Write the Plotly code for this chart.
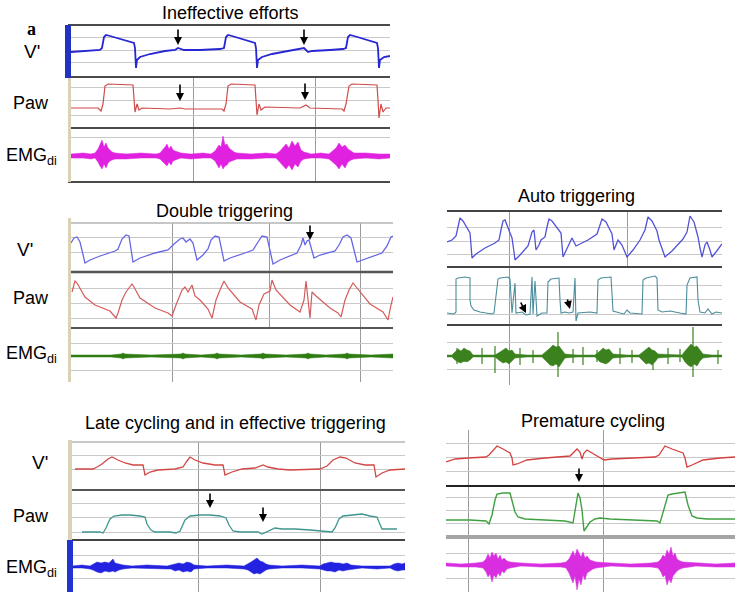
import plotly.graph_objects as go

# time in samples from the start of each panel, signals in arbitrary units (baseline = 0)

# a: Ineffective efforts
a_flow_t = [0, 19, 29, 31, 33, 35, 39, 63, 64, 65, 66, 69, 79, 94, 104, 107, 113, 129, 149, 153, 155, 157, 161, 184, 185, 186, 187, 191, 201, 217, 229, 233, 237, 241, 259, 272, 275, 277, 279, 283, 306, 307, 308, 309, 313, 319]
a_flow = [-2, -1, 0, 2, 13, 15, 14, 7, 2, -18, -10, -7, -4, -1, 0, 2, 0, 0, 1, 2, 13, 15, 14, 7, 2, -18, -10, -7, -4, -1, 1, 2, -2, -1, 0, 1, 2, 13, 15, 14, 7, 2, -18, -10, -7, -6]
a_paw_t = [0, 27, 30, 32, 34, 37, 62, 63, 64, 66, 68, 71, 99, 109, 114, 151, 153, 155, 157, 160, 184, 185, 186, 188, 190, 194, 229, 235, 239, 271, 273, 275, 278, 281, 306, 307, 308, 310, 312, 315, 319]
a_paw = [0, 0, -3, 4, 22, 24, 23, 8, -4, 4, -2, 0, -1, 0, -1, -1, -3, 4, 22, 24, 23, 8, -7, 4, -2, 1, 0, 3, 0, -1, -3, 4, 22, 24, 23, 8, -10, 4, -4, 0, 0]
a_emg_t = [0, 12, 20, 24,
           27, 29, 31, 33, 35, 37, 39, 41, 44,
           55, 70, 85, 89,
           92, 94, 96, 98, 100, 102, 104, 107, 110,
           120, 132, 140,
           144, 146, 148, 150, 152, 154, 156, 158, 160, 163, 166,
           180, 195, 205,
           209, 212, 215, 218, 221, 224, 227, 230, 233,
           240, 250, 258,
           262, 265, 268, 271, 274, 277, 280, 283,
           295, 308, 319]
a_emg_hi = [2, 3, 2, 3,
            7, 11, 16, 9, 13, 8, 6, 4, 3,
            2, 3, 2, 3,
            6, 9, 12, 7, 10, 6, 5, 4, 3,
            2, 3, 2,
            5, 8, 11, 9, 20, 11, 12, 8, 6, 4, 3,
            2, 3, 2,
            5, 9, 12, 8, 15, 10, 14, 6, 4,
            2, 3, 2,
            5, 8, 13, 9, 11, 7, 5, 3,
            3, 2, 2]
a_emg_lo = [2, 2, 3, 2,
            6, 10, 13, 8, 12, 7, 5, 4, 3,
            3, 2, 2, 3,
            5, 8, 10, 6, 9, 5, 4, 3, 2,
            3, 2, 2,
            5, 9, 12, 8, 13, 10, 9, 6, 5, 4, 3,
            3, 2, 2,
            6, 10, 13, 9, 14, 8, 11, 5, 3,
            2, 2, 3,
            6, 9, 13, 8, 12, 6, 4, 3,
            2, 3, 2]

# Double triggering
b_flow_t = [0, 3, 6, 9, 14, 19, 29, 44, 47, 51, 55, 58, 62, 69, 84, 97, 103, 109, 112, 115, 119, 122, 126, 132, 137, 140, 144, 148, 153, 159, 174, 182, 187, 191, 196, 202, 209, 226, 230, 232, 234, 236, 238, 241, 243, 249, 264, 268, 272, 276, 280, 286, 294, 311, 316, 320, 322]
b_flow = [7, 12, 13, 8, -13, -10, -6, -1, 1, 11, 15, 14, -12, -8, -3, 0, 6, 11, 12, 8, 11, 7, -10, -5, 1, 10, 14, 13, -11, -8, -3, 0, 8, 14, 13, -14, -10, -3, 5, 12, 5, 9, 10, 0, -8, -5, -1, 5, 13, 15, 12, -12, -9, -3, 4, 13, 14]
b_paw_t = [1, 4, 6, 14, 24, 39, 45, 47, 51, 55, 61, 63, 69, 84, 97, 101, 105, 111, 114, 117, 121, 124, 129, 137, 141, 145, 149, 153, 157, 169, 181, 185, 188, 193, 199, 201, 205, 219, 229, 233, 235, 237, 239, 241, 245, 259, 267, 270, 274, 278, 282, 286, 299, 312, 317, 320, 322]
b_paw = [11, 22, 20, 6, -2, -8, -15, -10, 3, 11, 19, 16, 5, -5, -10, -13, -2, 13, 16, 11, 18, 7, 3, -6, -15, 3, 13, 22, 15, 1, -6, -17, -2, 9, 12, 23, 13, -2, -9, 3, 22, 3, -15, 11, 7, -5, -10, -14, 3, 13, 20, 15, -1, -9, -17, -2, 6]
b_emg_t = [0, 20, 40, 50, 52, 54, 80, 110, 112, 114, 130, 144, 146, 148, 170, 190, 192, 194, 215, 235, 237, 239, 255, 274, 276, 278, 300, 322]
b_emg_hi = [1, 1, 1, 2, 3, 2, 1, 2, 3, 2, 1, 2, 3, 2, 1, 2, 3, 2, 1, 2, 3, 2, 1, 2, 3, 2, 1, 2]
b_emg_lo = [1, 1, 1, 2, 3, 2, 1, 2, 3, 2, 1, 2, 3, 2, 1, 2, 3, 2, 1, 2, 3, 2, 1, 2, 3, 2, 1, 2]

# Auto triggering
c_flow_t = [0, 5, 9, 11, 13, 16, 23, 24, 25, 29, 38, 48, 52, 54, 56, 58, 65, 67, 68, 73, 81, 85, 87, 89, 92, 94, 98, 100, 102, 105, 114, 116, 120, 125, 129, 133, 141, 150, 153, 155, 159, 165, 167, 171, 175, 180, 186, 193, 198, 201, 205, 210, 212, 214, 218, 225, 236, 240, 243, 247, 251, 253, 255, 258, 260, 263, 265, 269, 275]
c_flow = [-1, 1, 5, 15, 23, 20, 8, -4, -17, -13, -7, -2, 1, 11, 20, 21, 3, -11, -19, -14, -5, 9, 11, -9, -4, 1, 4, 14, 22, 20, 8, -16, -7, 3, -5, -3, 1, 7, 15, 22, 19, 7, -9, 1, -4, -16, -9, 1, 11, 24, 20, 10, 1, -5, -16, -10, 2, 9, 25, 19, 4, -7, -16, -4, -1, -9, -16, -11, -3]
c_paw_t = [0, 7, 9, 9, 11, 18, 23, 23, 24, 27, 33, 45, 47, 51, 53, 61, 63, 64, 65, 68, 69, 75, 79, 83, 85, 86, 88, 90, 95, 100, 101, 104, 112, 113, 114, 118, 122, 126, 128, 129, 131, 143, 150, 151, 154, 164, 165, 166, 173, 177, 180, 183, 195, 196, 199, 208, 210, 211, 215, 223, 233, 239, 240, 243, 250, 251, 253, 258, 261, 265, 269, 275]
c_paw = [1, 0, 2, 35, 36, 37, 36, 14, 8, 4, 2, 0, 1, 35, 36, 37, 35, 14, 1, 31, 1, 2, -1, 0, 37, 0, 33, -2, 1, 1, 32, 35, 36, 14, 1, 2, 1, 2, 36, -7, 1, 2, 1, 34, 36, 37, 14, 3, 1, 0, 4, 1, 0, 34, 36, 38, 36, 4, 2, 3, 1, 0, 29, 36, 37, 14, 2, 1, 5, 0, 2, 1]
c_emg_t = [0, 5, 8, 11, 14, 17, 20, 23, 26, 35, 48, 53, 56, 59, 62, 65, 68, 80, 95, 100, 103, 106, 109, 112, 115, 118, 130, 148, 153, 156, 159, 162, 166, 180, 192, 196, 199, 202, 205, 208, 211, 225, 235, 238, 241, 244, 247, 250, 253, 256, 265, 275]
c_emg_hi = [1, 1, 4, 7, 5, 8, 6, 5, 1, 1, 1, 4, 6, 8, 5, 6, 2, 1, 1, 5, 8, 11, 9, 10, 6, 2, 1, 1, 5, 8, 6, 7, 2, 1, 1, 4, 7, 9, 6, 5, 2, 1, 1, 5, 8, 12, 9, 10, 6, 2, 1, 1]
c_emg_lo = [1, 1, 4, 6, 7, 5, 6, 4, 1, 1, 1, 5, 7, 6, 8, 5, 2, 1, 1, 6, 9, 10, 8, 11, 7, 2, 1, 1, 6, 7, 8, 6, 2, 1, 1, 5, 8, 7, 9, 6, 2, 1, 1, 6, 9, 11, 8, 10, 5, 2, 1, 1]
c_spike_t = [10, 17, 35, 48, 73, 86, 111, 126, 136, 150, 173, 185, 206, 221, 233, 246, 271]
c_spike_hi = [8, 6, 8, 10, 8, 6, 24, 7, 9, 6, 8, 6, 6, 8, 7, 29, 6]
c_spike_lo = [8, 6, 8, 17, 9, 7, 21, 7, 9, 6, 8, 7, 14, 8, 6, 21, 8]

# Late cycling and in effective triggering
d_flow_t = [3, 21, 25, 30, 36, 40, 46, 53, 61, 71, 72, 73, 78, 86, 103, 111, 115, 118, 123, 131, 143, 151, 152, 153, 160, 170, 183, 191, 196, 206, 218, 248, 255, 261, 268, 274, 283, 293, 302, 303, 304, 310, 318, 333]
d_flow = [0, 0, 2, 5, 10, 12, 9, 6, 4, 4, -1, -6, -3, -1, 0, 2, 8, 12, 9, 6, 4, 4, -1, -6, -3, 0, 1, 4, 2, 0, -1, 0, 3, 9, 12, 11, 6, 4, 4, -2, -8, -4, -1, 0]
d_paw_t = [10, 28, 31, 34, 38, 42, 50, 58, 68, 73, 75, 79, 83, 98, 104, 108, 113, 118, 128, 138, 148, 154, 157, 161, 168, 186, 190, 196, 203, 210, 223, 238, 253, 260, 263, 267, 271, 280, 290, 298, 305, 307, 310, 314, 325]
d_paw = [0, 0, -1, 4, 13, 16, 17, 17, 16, 15, 8, 2, 0, 0, -1, 1, 12, 16, 17, 17, 16, 14, 7, 1, 0, 0, -2, 1, 4, 3, 3, 2, 1, 0, 4, 13, 16, 17, 18, 16, 15, 10, 3, 3, 3]
d_emg_t = [0, 10, 18, 21, 25, 29, 33, 37, 41, 43, 47, 51, 60, 75, 95, 99, 103, 107, 111, 115, 119, 122, 135, 155, 172, 176, 179, 182, 185, 188, 191, 194, 197, 210, 230, 248, 251, 255, 259, 263, 267, 271, 275, 279, 290, 305, 318, 322, 326, 330, 333]
d_emg_hi = [1, 2, 1, 3, 5, 4, 5, 4, 8, 4, 3, 2, 1, 2, 1, 2, 3, 4, 3, 5, 4, 2, 1, 2, 1, 3, 5, 7, 9, 6, 5, 3, 2, 1, 2, 1, 3, 4, 5, 4, 4, 3, 4, 2, 1, 1, 1, 3, 4, 3, 4]
d_emg_lo = [1, 1, 2, 3, 5, 6, 4, 5, 4, 5, 3, 2, 1, 1, 2, 2, 4, 3, 5, 4, 5, 2, 1, 1, 2, 3, 5, 7, 6, 7, 5, 3, 2, 1, 1, 2, 3, 4, 4, 5, 3, 4, 3, 2, 1, 2, 1, 3, 4, 3, 3]

# Premature cycling
e_flow_t = [0, 9, 22, 40, 43, 48, 51, 57, 64, 66, 67, 71, 81, 99, 119, 124, 129, 131, 134, 136, 138, 141, 146, 154, 158, 166, 184, 209, 213, 217, 219, 226, 237, 239, 241, 246, 257, 274, 289]
e_flow = [-5, -2, -1, 0, 2, 8, 11, 8, 4, -1, -8, -7, -3, -1, 0, 1, 6, 8, 5, -2, 4, 7, 4, -1, -3, -2, -1, 0, 2, 8, 11, 8, 4, -1, -10, -8, -3, -1, 0]
e_paw_t = [0, 24, 40, 43, 46, 49, 51, 57, 64, 66, 69, 72, 79, 99, 119, 127, 130, 132, 134, 136, 138, 141, 144, 149, 154, 164, 184, 211, 214, 218, 222, 226, 234, 239, 242, 246, 251, 261, 289]
e_paw = [1, 1, 0, -3, 6, 21, 27, 28, 28, 21, 9, 4, 2, 1, 0, -2, 16, 28, 23, 11, -10, -6, -1, 2, 3, 2, 1, 0, -2, 11, 26, 27, 28, 29, 16, 5, 3, 2, 2]
e_emg_t = [0, 15, 30, 37, 40, 42, 44, 46, 48, 50, 52, 54, 56, 58, 61, 64, 75, 95, 115, 120, 123, 125, 127, 129, 131, 133, 135, 137, 139, 141, 144, 147, 150, 165, 185, 205, 212, 215, 217, 219, 221, 223, 225, 227, 229, 231, 234, 237, 250, 270, 289]
e_emg_hi = [2, 1, 2, 3, 6, 11, 7, 13, 9, 12, 6, 10, 5, 7, 4, 3, 2, 1, 2, 3, 6, 10, 14, 9, 16, 12, 8, 13, 7, 9, 5, 4, 3, 2, 1, 2, 3, 6, 10, 8, 15, 11, 18, 9, 12, 6, 4, 3, 2, 1, 2]
e_emg_lo = [1, 2, 2, 3, 7, 12, 9, 17, 10, 13, 8, 11, 6, 8, 4, 3, 1, 2, 2, 3, 8, 12, 18, 11, 25, 14, 20, 10, 15, 8, 6, 4, 3, 1, 2, 2, 3, 7, 12, 10, 20, 14, 18, 11, 9, 6, 4, 3, 1, 2, 2]

W, H = 737, 592
GRID = "#c9c9c9"
VGRID = "#9a9a9a"

# one strip per signal: x0, x1, top, bottom (px), baseline (px), horizontal grid, vertical grid
rows = [
    (71, 390, 25, 77, 50, [13, 0, -12], []),
    (71, 390, 77, 128, 108, [21, 8, -7], [122, 244]),
    (71, 390, 128, 182, 156, [19], [122, 244]),
    (71, 393, 223, 272, 250, [13, -2], [101, 198, 289]),
    (71, 393, 272, 328, 303, [15, 0, -15], [101, 198, 289]),
    (71, 393, 328, 382, 356, [13, -14], [101, 289]),
    (447, 722, 211, 267, 241, [14, 0, -13], [62, 180]),
    (447, 722, 267, 325, 314, [29, 15, 0], [62]),
    (447, 722, 325, 385, 356, [14, -13], [62]),
    (72, 405, 442, 490, 469, [14, 0], [126, 248]),
    (72, 405, 490, 540, 532, [29, 15, 0], [126, 248]),
    (72, 405, 540, 592, 567, [12, -11], [126, 248]),
    (446, 735, 430, 486, 457, [14, 0, -14], [22, 157]),
    (446, 735, 486, 537, 521, [24, 11, -2], [22, 157]),
    (446, 735, 537, 592, 565, [12, -13], [22, 157]),
]

fig = go.Figure()
layout = {}
for i, (x0, x1, yt, yb, base, hg, vg) in enumerate(rows, start=1):
    s = "" if i == 1 else str(i)
    layout["xaxis" + s] = dict(
        domain=[x0 / W, x1 / W], range=[0, x1 - x0], anchor="y" + s,
        tickvals=vg, showgrid=True, gridcolor=VGRID, gridwidth=1,
        showticklabels=False, ticks="", zeroline=False, showline=False,
    )
    layout["yaxis" + s] = dict(
        domain=[1 - yb / H, 1 - yt / H], range=[base - yb, base - yt], anchor="x" + s,
        tickvals=hg, showgrid=True, gridcolor=GRID, gridwidth=1,
        showticklabels=False, ticks="", zeroline=False, showline=False,
    )


def ax(i):
    return ("x" if i == 1 else "x%d" % i), ("y" if i == 1 else "y%d" % i)


def line(i, t, v, color, width=1.3):
    xa, ya = ax(i)
    fig.add_trace(go.Scatter(x=t, y=v, mode="lines", xaxis=xa, yaxis=ya,
                             line=dict(color=color, width=width), hoverinfo="skip"))


def emg(i, t, hi, lo, color):
    xa, ya = ax(i)
    fig.add_trace(go.Scatter(x=t + t[::-1], y=hi + [-v for v in lo][::-1],
                             mode="lines", fill="toself", fillcolor=color,
                             xaxis=xa, yaxis=ya, line=dict(color=color, width=0.5),
                             hoverinfo="skip"))


line(1, a_flow_t, a_flow, "#2626d4", 1.8)
line(2, a_paw_t, a_paw, "#d24a4a", 1.2)
emg(3, a_emg_t, a_emg_hi, a_emg_lo, "#e022e0")
line(4, b_flow_t, b_flow, "#6767e6", 1.3)
line(5, b_paw_t, b_paw, "#d45c5c", 1.2)
emg(6, b_emg_t, b_emg_hi, b_emg_lo, "#2f7d12")
line(7, c_flow_t, c_flow, "#5252d8", 1.3)
line(8, c_paw_t, c_paw, "#4b8d9c", 1.1)
emg(9, c_emg_t, c_emg_hi, c_emg_lo, "#3b821e")
sx, sy = [], []
for t, h, l in zip(c_spike_t, c_spike_hi, c_spike_lo):
    sx += [t, t, None]
    sy += [h, -l, None]
line(9, sx, sy, "#3b821e", 1.2)
line(10, d_flow_t, d_flow, "#d24646", 1.3)
line(11, d_paw_t, d_paw, "#3f968f", 1.3)
emg(12, d_emg_t, d_emg_hi, d_emg_lo, "#2222e0")
line(13, e_flow_t, e_flow, "#d44040", 1.3)
line(14, e_paw_t, e_paw, "#3fa03f", 1.4)
emg(15, e_emg_t, e_emg_hi, e_emg_lo, "#d82ee0")

# frame lines and side bars (page decoration)
shapes = []


def hline(x0, x1, y, color="#4a4a4a", width=2):
    shapes.append(dict(type="line", xref="paper", yref="paper", x0=x0 / W, x1=x1 / W,
                       y0=1 - y / H, y1=1 - y / H, line=dict(color=color, width=width)))


def bar(x0, x1, y0, y1, color):
    shapes.append(dict(type="rect", xref="paper", yref="paper", x0=x0 / W, x1=x1 / W,
                       y0=1 - y1 / H, y1=1 - y0 / H, fillcolor=color, line_width=0))


for y in (25, 77, 128, 182):
    hline(68, 390, y)
hline(71, 393, 223, "#b5b5b5", 1.5)
hline(71, 393, 272, "#555555", 2.5)
hline(71, 393, 328, "#555555", 2)
for y in (211, 267, 325):
    hline(447, 722, y, "#444444", 2)
hline(72, 405, 442, "#b5b5b5", 1.5)
hline(72, 405, 490, "#555555", 2)
hline(72, 405, 540, "#444444", 2)
hline(446, 735, 486, "#222222", 2)
hline(446, 735, 537, "#a5a5a5", 4)
bar(65, 71, 25, 78, "#2233c4")
bar(68, 71, 78, 182, "#d9d2b4")
bar(68, 71, 218, 382, "#d9d2b4")
bar(68, 72, 440, 540, "#d9d2b4")
bar(67, 73, 540, 592, "#2233d0")

ann = []
SANS = "Liberation Sans, Arial, sans-serif"


def text(s, x, y, size, family=SANS):
    ann.append(dict(text=s, x=x / W, y=1 - y / H, xref="paper", yref="paper",
                    xanchor="center", yanchor="middle", showarrow=False,
                    font=dict(family=family, size=size, color="black")))


text("Ineffective efforts", 230, 13, 18)
text("Double triggering", 224, 211, 18)
text("Auto triggering", 576, 196, 18)
text("Late cycling and in effective triggering", 235, 423, 18)
text("Premature cycling", 593, 421, 18)
text("<b>a</b>", 31, 29, 18, "Liberation Serif, serif")
for vy, py_, ey, vx in ((52, 103, 157, 32), (249, 298, 354, 25), (462, 516, 568, 40)):
    text("V'", vx, vy, 19)
    text("Paw", 31, py_, 18)
    text("EMG<sub>di</sub>", 31, ey, 18)


def arrow(i, x, y, dx=0, dy=-17):
    xa, ya = ax(i)
    ann.append(dict(x=x, y=y, xref=xa, yref=ya, ax=dx, ay=dy, text="", showarrow=True,
                    arrowhead=2, arrowsize=1, arrowwidth=1.6, arrowcolor="black", standoff=0))


arrow(1, 107, 5)
arrow(1, 233, 5)
arrow(2, 109, 7, dy=-18)
arrow(2, 234, 8, dy=-18)
arrow(4, 239, 10, dy=-16)
arrow(8, 79, 1, -6, -12)
arrow(8, 123, 5, -3, -11)
arrow(11, 138, 24, dy=-16)
arrow(11, 191, 10, dy=-16)
arrow(13, 133, -25, dy=-15)

fig.update_layout(
    width=W, height=H, margin=dict(l=0, r=0, t=0, b=0),
    paper_bgcolor="white", plot_bgcolor="white", showlegend=False,
    shapes=shapes, annotations=ann, **layout,
)
# drop the default page margin so the figure sits at the window corner
fig.write_html("out.html", config={"displayModeBar": False},
               post_script="document.body.style.margin='0';")
